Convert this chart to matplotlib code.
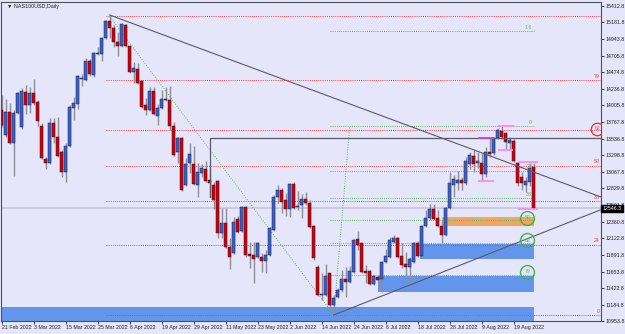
import matplotlib
matplotlib.use("Agg")
import matplotlib.pyplot as plt
from matplotlib.patches import Rectangle
import matplotlib.transforms as mtransforms

plt.rcParams["font.family"] = ["Liberation Sans", "DejaVu Sans"]

# daily candles NAS100USD, 21 Feb 2022 .. 26 Aug 2022
opens = [13941, 13587, 13913, 13474, 13899, 13700, 14196, 14011, 14182, 14054,
         13714, 13247, 13190, 13757, 13559, 13346, 13063, 13431, 13969, 14026,
         14380, 14365, 14634, 14436, 14733, 14733, 14960, 15201, 15102, 14903,
         14846, 15144, 14846, 14479, 14521, 14351, 14011, 13941, 14210, 13856,
         13969, 14097, 14082, 13714, 13346, 13545, 12879, 13190, 13176, 12879,
         13049, 13105, 12950, 12879, 12936, 12199, 12341, 12001, 11916, 12398,
         12228, 12567, 11902, 11888, 11860, 11860, 11803, 11888, 12242, 12709,
         12808, 12667, 12539, 12893, 12567, 12596, 12681, 12624, 12299, 11718,
         11322, 11322, 11633, 11180, 11294, 11393, 11548, 11506, 11647, 12114,
         12058, 11662, 11662, 11478, 11577, 11548, 11789, 11860, 12072, 12128,
         11874, 11761, 11718, 11789, 12058, 11874, 12299, 12412, 12539, 12412,
         12299, 12171, 12553, 12879, 12907, 12950, 12907, 13176, 13289, 13190,
         13190, 13035, 13346, 13332, 13545, 13644, 13615, 13474, 13502, 13190,
         12992, 12879, 12922, 13134]
highs = [14153, 14097, 14040, 13941, 14196, 14252, 14294, 14266, 14380, 14082,
         13757, 13275, 13827, 13827, 13842, 13374, 13474, 14011, 14125, 14436,
         14450, 14677, 14662, 14762, 14833, 14974, 15215, 15271, 15144, 15045,
         15172, 15158, 14860, 14620, 14606, 14365, 14111, 14266, 14266, 14026,
         14224, 14266, 14280, 13771, 13559, 13560, 13261, 13474, 13431, 13190,
         13176, 13219, 13120, 12922, 12950, 12553, 12553, 12128, 12426, 12440,
         12580, 12581, 12072, 12072, 12072, 11916, 11959, 12285, 12738, 12879,
         12837, 12766, 12907, 12922, 12794, 12752, 12780, 12667, 12313, 11746,
         11633, 11761, 11640, 11322, 11421, 11676, 11718, 11732, 12114, 12228,
         12065, 11746, 11676, 11605, 11605, 11800, 11973, 12143, 12171, 12143,
         12058, 11930, 11860, 12072, 12086, 12313, 12525, 12610, 12610, 12525,
         12384, 12567, 13063, 13020, 13077, 12992, 13275, 13346, 13374, 13346,
         13332, 13417, 13545, 13559, 13687, 13728, 13630, 13559, 13531, 13200,
         13063, 12992, 13190, 13190]
lows = [13700, 13559, 13460, 13006, 13885, 13672, 13885, 13899, 14011, 13714,
        13250, 13105, 13176, 13474, 13275, 12992, 12922, 13417, 13799, 13955,
        14280, 14351, 14422, 14408, 14719, 14634, 14945, 14960, 14833, 14705,
        14833, 14833, 14465, 14323, 14309, 13970, 13870, 13927, 13870, 13728,
        13955, 14068, 13658, 13289, 13190, 12794, 12865, 13049, 12879, 12709,
        12992, 12922, 12709, 12539, 12128, 12128, 11990, 11690, 11902, 12199,
        12214, 11860, 11704, 11492, 11846, 11647, 11633, 11874, 12228, 12624,
        12483, 12440, 12426, 12539, 12525, 12412, 12596, 12275, 11817, 11308,
        11251, 11308, 11152, 11039, 11280, 11364, 11294, 11492, 11635, 11959,
        11633, 11492, 11463, 11463, 11520, 11364, 11775, 11850, 12060, 11846,
        11704, 11591, 11478, 11775, 11860, 11860, 12285, 12384, 12384, 12285,
        12058, 12157, 12539, 12709, 12808, 12808, 12879, 13105, 13063, 13120,
        12936, 12992, 13275, 13303, 13531, 13531, 13389, 13389, 13205, 12865,
        12808, 12780, 12865, 12539]
closes = [13728, 13913, 13474, 13899, 14182, 14210, 14011, 14182, 14040, 13785,
          13261, 13190, 13757, 13559, 13289, 13063, 13431, 13983, 14040, 14422,
          14394, 14634, 14450, 14748, 14748, 14960, 15201, 15102, 14903, 14846,
          15158, 14846, 14479, 14535, 14323, 13983, 13941, 14210, 13885, 13969,
          14097, 14082, 13714, 13303, 13545, 12808, 13176, 13318, 12893, 13063,
          13120, 12936, 12908, 12667, 12199, 12341, 12001, 11860, 12355, 12214,
          12567, 11888, 11874, 11831, 12058, 11803, 11888, 12270, 12709, 12808,
          12638, 12539, 12893, 12553, 12581, 12681, 12624, 12285, 11846, 11322,
          11336, 11591, 11180, 11280, 11393, 11548, 11506, 11662, 12100, 12030,
          11647, 11633, 11478, 11591, 11534, 11789, 11874, 12100, 12128, 11860,
          11746, 11718, 11831, 12058, 11874, 12299, 12412, 12539, 12398, 12299,
          12171, 12553, 12907, 12964, 12950, 12907, 13219, 13303, 13176, 13219,
          13035, 13346, 13318, 13545, 13658, 13559, 13488, 13516, 13219, 12907,
          12907, 12936, 13120, 12546]

date_ticks = [0, 8, 16, 24, 32, 40, 48, 56, 64, 72, 80, 88, 96, 104, 112, 120, 128]
date_labels = ["21 Feb 2022", "3 Mar 2022", "15 Mar 2022", "25 Mar 2022", "6 Apr 2022",
               "19 Apr 2022", "29 Apr 2022", "11 May 2022", "23 May 2022", "2 Jun 2022",
               "14 Jun 2022", "24 Jun 2022", "6 Jul 2022", "18 Jul 2022", "28 Jul 2022",
               "9 Aug 2022", "19 Aug 2022"]
price_ticks = [15412.8, 15181.8, 14943.8, 14705.8, 14474.8, 14236.8, 14005.8, 13767.8,
               13536.8, 13298.8, 13067.8, 12829.8, 12591.8, 12360.8, 12122.8, 11891.8,
               11653.8, 11422.8, 11184.8, 10953.8]
last_price = 12546.3

# drawing objects
fib_high = (27, 15265)           # red retracement, March top -> June low
fib_low = (83, 11039)
fib_ratios = [0.236, 0.382, 0.5, 0.618, 0.786]
fib_names = ["24", "38", "50", "62", "79"]
green_top = (87, 13714)          # green retracement, June low -> August top
ext_level = 15059
down_trend = [(27, 15285), (149.8, 12709)]
up_trend = [(83, 11039), (149.6, 12525)]
box_x, box_bottom, box_top = 52, 12709, 13544
zones = [  # (start bar, end bar, low, high, colour)
    (0, 133, 10900, 11152, "#6495ed"),
    (94, 133, 11364, 11590, "#6495ed"),
    (104.6, 133, 11831, 12043, "#6495ed"),
    (110, 133, 12298, 12426, "#f4a460"),
]
swing_marks = [(124.1, 128.1, 13714, "#ff88ff"), (119.1, 123.1, 13544, "#cc44cc"),
               (124.1, 127.9, 13374, "#ff88ff"), (129.1, 134.1, 13205, "#ff88ff"),
               (119.1, 123.1, 12935, "#ff88ff"), (129.1, 134.1, 12539, "#ff88ff")]

BG = "#e6e6fa"
BULL = "#3a62c8"
BEAR = "#d40000"
RED = "#ff3b3b"
GREEN = "#5cb85c"
LINE = "#5a5a66"

fig = plt.figure(figsize=(6.25, 3.34), dpi=100, facecolor=BG)
ax = fig.add_axes([1.5 / 625, 13 / 334, 599.5 / 625, 319 / 334])
ax.set_facecolor(BG)
ax.set_xlim(-0.05, 149.8)
ax.set_ylim(10953.8, 15469.4)

# zones behind everything
for x0, x1, lo, hi, col in zones:
    ax.add_patch(Rectangle((x0, lo), x1 - x0, hi - lo, color=col, lw=0, zorder=1))

# bid line
ax.axhline(last_price, color="#c9c9dc", lw=1.3, zorder=1.2)

# red fibonacci levels
span = fib_high[1] - fib_low[1]
red_levels = [fib_low[1]] + [fib_low[1] + r * span for r in fib_ratios] + [fib_high[1]]
for lv in red_levels:
    ax.plot([26, 149.8], [lv, lv], color=RED, lw=0.7, ls=(0, (1, 1.2)), zorder=1.5)
red_lab = ["0"] + fib_names
for lv, name in zip(red_levels[:-1], red_lab):
    if name == "62":
        continue
    ax.text(149.5, lv + 20, name, color=RED, fontsize=3.8, ha="right", va="bottom", zorder=6)
ax.text(148.9, red_levels[4] + 22, "62", color=RED, fontsize=3.8, ha="center", va="center", zorder=6)
ax.plot(148.9, red_levels[4] + 22, marker="o", ms=9, mfc="none", mec="#e03030", mew=0.9, zorder=6)
ax.plot([fib_high[0], fib_low[0]], [fib_high[1], fib_low[1]], color=GREEN, lw=0.7,
        ls=(0, (1, 1.5)), zorder=1.5)

# green fibonacci levels
gspan = green_top[1] - fib_low[1]
green_levels = [green_top[1] - r * gspan for r in [0] + fib_ratios] + [fib_low[1], ext_level]
for lv in green_levels:
    ax.plot([82, 133], [lv, lv], color=GREEN, lw=0.7, ls=(0, (1, 1.2)), zorder=1.6)
ax.plot([fib_low[0], green_top[0]], [fib_low[1], green_top[1]], color=GREEN, lw=0.7,
        ls=(0, (1, 1.5)), zorder=1.6)
ax.text(132.6, ext_level + 20, "1.6", color=GREEN, fontsize=3.8, ha="right", va="bottom", zorder=6)
for lv, name in zip(green_levels[:3], ["0", "24", "38"]):
    ax.text(132.6, lv + 20, name, color=GREEN, fontsize=3.8, ha="right", va="bottom", zorder=6)
for lv, name in zip(green_levels[3:6], ["50", "62", "79"]):
    ax.text(131.4, lv + 38, name, color=GREEN, fontsize=3.8, ha="center", va="center", zorder=6)
    ax.plot(131.4, lv + 38, marker="o", ms=10, mfc="none", mec="#3cb83c", mew=1.0, zorder=6)

# trend lines and box
ax.plot(*zip(*down_trend), color=LINE, lw=0.8, zorder=4)
ax.plot(*zip(*up_trend), color=LINE, lw=0.8, zorder=4)
ax.plot([box_x, box_x, 149.8], [box_bottom, box_top, box_top], color=LINE, lw=0.9, zorder=4)

# candles
idx = list(range(len(opens)))
ax.vlines(idx, lows, highs, color="#8e8e96", lw=1.0, zorder=2)
for i in idx:
    o, c = opens[i], closes[i]
    col = BULL if c >= o else BEAR
    lo = min(o, c)
    h = max(abs(c - o), 14)
    ax.add_patch(Rectangle((i - 0.36, lo), 0.72, h, facecolor=col, edgecolor="#1c1c3a",
                           lw=0.35, zorder=3))

for x0, x1, lv, col in swing_marks:
    ax.plot([x0, x1], [lv, lv], color=col, lw=1.3, zorder=5, solid_capstyle="butt")

# axes look
for sp in ax.spines.values():
    sp.set_color("#50505a")
    sp.set_linewidth(0.8)
ax.yaxis.tick_right()
ax.set_yticks(price_ticks)
ax.set_yticklabels([f"{p:.1f}" for p in price_ticks])
ax.tick_params(axis="y", labelsize=3.8, length=2.2, width=0.6, pad=1.2, colors="#202020")
ax.set_xticks(date_ticks)
ax.set_xticklabels(date_labels)
ax.tick_params(axis="x", labelsize=3.8, length=2.0, width=0.6, pad=1.0, colors="#202020")
for lab in ax.get_xticklabels():
    lab.set_ha("left")

ax.text(0.01, 0.993, "\u25bc NAS100USD,Daily", transform=ax.transAxes, fontsize=3.9,
        va="top", ha="left", color="#202020", family=["Liberation Sans", "DejaVu Sans"])

trans = mtransforms.blended_transform_factory(ax.transAxes, ax.transData)
ax.text(1.003, last_price, "12546.3", transform=trans, fontsize=3.8, color="white",
        ha="left", va="center", zorder=10, clip_on=False,
        bbox=dict(boxstyle="square,pad=0.25", fc="black", ec="black"))

fig.savefig("out.png", dpi=100, facecolor=BG)
